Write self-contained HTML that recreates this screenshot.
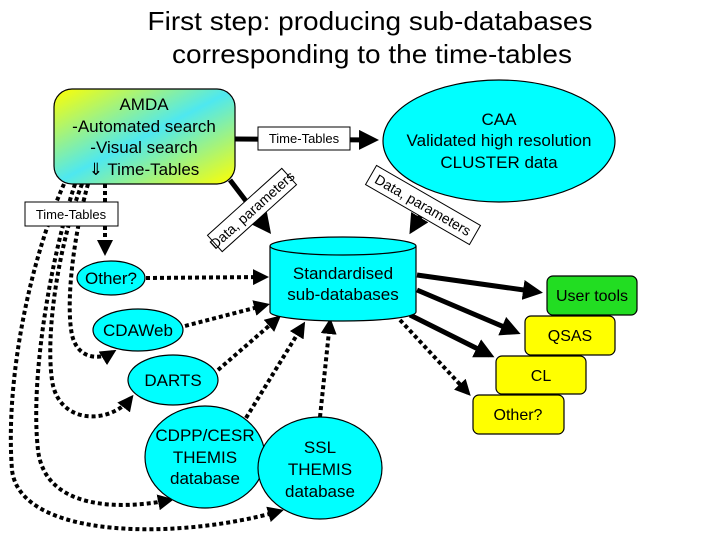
<!DOCTYPE html>
<html><head><meta charset="utf-8"><style>
html,body{margin:0;padding:0;background:#fff}
svg{display:block;font-family:"Liberation Sans",sans-serif}
</style></head><body>
<svg width="720" height="540" viewBox="0 0 720 540" xmlns="http://www.w3.org/2000/svg">
<defs>
<linearGradient id="g" x1="0" y1="0" x2="1" y2="1">
<stop offset="0" stop-color="#ffff00"/><stop offset="0.5" stop-color="#4ee8f0"/><stop offset="1" stop-color="#ffff00"/>
</linearGradient>
<marker id="a" markerWidth="4" markerHeight="4" refX="3" refY="2" orient="auto" markerUnits="strokeWidth"><path d="M0,0 L4,2 L0,4 z" fill="#000"/></marker>
<marker id="b" markerWidth="4" markerHeight="4" refX="3" refY="2" orient="auto" markerUnits="strokeWidth"><path d="M0,0 L4,2 L0,4 z" fill="#000"/></marker>
</defs>
<g font-size="26" text-anchor="middle" fill="#000">
<text x="370" y="30" textLength="445" lengthAdjust="spacingAndGlyphs">First step: producing sub-databases</text>
<text x="372" y="63" textLength="400" lengthAdjust="spacingAndGlyphs">corresponding to the time-tables</text>
</g>
<g fill="none" stroke="#000" stroke-width="4" stroke-dasharray="4,3">
<path d="M105,184 L105,252" marker-end="url(#b)"/>
<path d="M88,184 C75,230 65,300 72,335 C78,360 100,360 113,352" marker-end="url(#b)"/>
<path d="M82,184 C60,240 45,330 52,380 C58,425 110,425 131,398" marker-end="url(#b)"/>
<path d="M75,184 C50,260 30,380 38,450 C45,510 120,510 170,500" marker-end="url(#b)"/>
<path d="M64,184 C30,260 5,380 12,470 C20,540 180,540 280,511" marker-end="url(#b)"/>
<path d="M146,278 L265,277" marker-end="url(#b)"/>
<path d="M185,326 L266,305" marker-end="url(#b)"/>
<path d="M218,370 L278,318" marker-end="url(#b)"/>
<path d="M246,418 L303,325" marker-end="url(#b)"/>
<path d="M320,417 L330,322" marker-end="url(#b)"/>
<path d="M400,320 L468,393" marker-end="url(#b)"/>
</g>
<g fill="none" stroke="#000" stroke-width="5">
<path d="M235,139 L374,140" marker-end="url(#a)"/>
<path d="M230,180 L268,230" marker-end="url(#a)"/>
<path d="M430,200 L412,230" marker-end="url(#a)"/>
<path d="M417,275 L538,292" marker-end="url(#a)"/>
<path d="M417,290 L516,332" marker-end="url(#a)"/>
<path d="M410,315 L490,355" marker-end="url(#a)"/>
</g>
<rect x="54" y="89" width="181" height="95" rx="18" fill="url(#g)" stroke="#000" stroke-width="1.2"/>
<g font-size="17" text-anchor="middle">
<text x="144" y="110">AMDA</text>
<text x="144" y="132">-Automated search</text>
<text x="144" y="153">-Visual search</text>
<text x="144" y="175">⇓ Time-Tables</text>
</g>
<rect x="258" y="127" width="92" height="23" fill="#fff" stroke="#000"/>
<text x="304" y="143" font-size="13" text-anchor="middle">Time-Tables</text>
<rect x="25" y="202" width="93" height="24" fill="#fff" stroke="#000"/>
<text x="71" y="219" font-size="13" text-anchor="middle">Time-Tables</text>
<g transform="translate(252,210) rotate(-42)">
<rect x="-50" y="-11" width="100" height="22" fill="#fff" stroke="#000"/>
<text x="0" y="5" font-size="14" text-anchor="middle">Data, parameters</text>
</g>
<g transform="translate(423,205) rotate(30)">
<rect x="-60" y="-11" width="120" height="22" fill="#fff" stroke="#000"/>
<text x="0" y="5" font-size="14" text-anchor="middle">Data, parameters</text>
</g>
<ellipse cx="499" cy="141" rx="116" ry="61" fill="#00ffff" stroke="#000" stroke-width="1.2"/>
<g font-size="17" text-anchor="middle">
<text x="499" y="125">CAA</text>
<text x="499" y="146">Validated high resolution</text>
<text x="499" y="168">CLUSTER data</text>
</g>
<path d="M270,246 L270,312 A73,9 0 0 0 416,312 L416,246" fill="#00ffff" stroke="#000" stroke-width="1.2"/>
<ellipse cx="343" cy="246" rx="73" ry="9" fill="#00ffff" stroke="#000" stroke-width="1.2"/>
<g font-size="17" text-anchor="middle">
<text x="343" y="279">Standardised</text>
<text x="343" y="300">sub-databases</text>
</g>
<g fill="#00ffff" stroke="#000" stroke-width="1.2">
<ellipse cx="111" cy="278" rx="34" ry="17"/>
<ellipse cx="138" cy="330" rx="45" ry="21"/>
<ellipse cx="173" cy="380" rx="45" ry="25"/>
<ellipse cx="205" cy="457" rx="60" ry="51"/>
<ellipse cx="320" cy="468" rx="62" ry="51"/>
</g>
<g font-size="17" text-anchor="middle">
<text x="111" y="284">Other?</text>
<text x="138" y="336">CDAWeb</text>
<text x="173" y="386">DARTS</text>
<text x="205" y="441">CDPP/CESR</text>
<text x="205" y="463">THEMIS</text>
<text x="205" y="484">database</text>
<text x="320" y="453">SSL</text>
<text x="320" y="475">THEMIS</text>
<text x="320" y="497">database</text>
</g>
<rect x="547" y="276" width="90" height="39" rx="6" fill="#22dd22" stroke="#000" stroke-width="1.2"/>
<rect x="525" y="316" width="90" height="39" rx="6" fill="#ffff00" stroke="#000" stroke-width="1.2"/>
<rect x="496" y="356" width="90" height="38" rx="6" fill="#ffff00" stroke="#000" stroke-width="1.2"/>
<rect x="473" y="395" width="91" height="39" rx="6" fill="#ffff00" stroke="#000" stroke-width="1.2"/>
<g font-size="16" text-anchor="middle">
<text x="592" y="301">User tools</text>
<text x="570" y="341">QSAS</text>
<text x="541" y="381">CL</text>
<text x="518" y="420">Other?</text>
</g>
</svg>
</body></html>
